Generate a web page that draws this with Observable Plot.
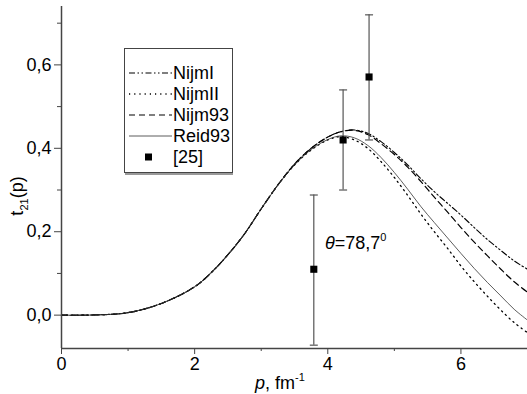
<!DOCTYPE html>
<html><head><meta charset="utf-8">
<script src="https://cdn.jsdelivr.net/npm/d3@7"></script>
<script src="https://cdn.jsdelivr.net/npm/@observablehq/plot@0.6"></script>
<style>
body{margin:0;background:#fff;}
svg{font-family:"Liberation Sans",Arial,sans-serif;}
</style>
</head><body><div id="chart"></div>
<script>
// momentum grid (fm^-1)
const pGrid  = [0, 0.5, 1.0, 1.5, 2.0, 2.25, 2.5, 2.75, 3.0, 3.25, 3.5, 3.75, 4.0, 4.2, 4.4, 4.6, 4.8, 5.0, 5.2, 5.4, 5.6, 5.8, 6.0, 6.2, 6.4, 6.6, 6.8, 7.0];
const nijmI  = [0, 0.0005, 0.006, 0.028, 0.068, 0.102, 0.145, 0.195, 0.255, 0.312, 0.362, 0.400, 0.427, 0.440, 0.444, 0.436, 0.416, 0.390, 0.360, 0.327, 0.296, 0.268, 0.240, 0.210, 0.181, 0.155, 0.130, 0.110];
const nijmII = [0, 0.0005, 0.006, 0.028, 0.068, 0.102, 0.145, 0.195, 0.255, 0.312, 0.360, 0.396, 0.420, 0.428, 0.420, 0.400, 0.368, 0.330, 0.287, 0.242, 0.200, 0.160, 0.118, 0.080, 0.045, 0.012, -0.018, -0.042];
const nijm93 = [0, 0.0005, 0.006, 0.028, 0.068, 0.102, 0.145, 0.195, 0.255, 0.312, 0.362, 0.400, 0.427, 0.440, 0.443, 0.433, 0.411, 0.385, 0.355, 0.320, 0.283, 0.247, 0.210, 0.175, 0.142, 0.110, 0.080, 0.055];
const reid93 = [0, 0.0005, 0.006, 0.028, 0.068, 0.102, 0.145, 0.195, 0.255, 0.312, 0.360, 0.397, 0.421, 0.430, 0.425, 0.407, 0.378, 0.342, 0.302, 0.260, 0.222, 0.185, 0.148, 0.112, 0.078, 0.046, 0.014, -0.012];

// experimental data [25]
const expP  = [3.79, 4.23, 4.62];
const expT  = [0.11, 0.42, 0.571];
const expLo = [-0.072, 0.30, 0.42];
const expHi = [0.288, 0.54, 0.72];

const xTicks = [0, 2, 4, 6];
const xMinor = [1, 3, 5];
const yTicks = [0.0, 0.2, 0.4, 0.6];
const yMinor = [0.1, 0.3, 0.5, 0.7];

const seriesNames = ["NijmI", "NijmII", "Nijm93", "Reid93"];
const seriesVals = [nijmI, nijmII, nijm93, reid93];
const seriesDash = ["6,2.5,1.5,2.5,1.5,2.5", "1.2,4", "6,4", null];
const seriesWidth = [1.1, 1.3, 1.2, 0.8];
const seriesColor = ["#000", "#000", "#000", "#333"];

const rows = seriesNames.map((name, i) => pGrid.map((p, j) => ({p, t: seriesVals[i][j], name})));
const exp = expP.map((p, i) => ({p, t: expT[i], lo: expLo[i], hi: expHi[i]}));

const capSymbol = {draw(ctx) { ctx.moveTo(-4, 0); ctx.lineTo(4, 0); }};

const lines = rows.map((d, i) => Plot.line(d, {
  x: "p", y: "t", curve: "catmull-rom",
  stroke: seriesColor[i], strokeWidth: seriesWidth[i],
  strokeDasharray: seriesDash[i] || undefined
}));

const plot = Plot.plot({
  width: 527, height: 394,
  marginLeft: 61, marginRight: 0, marginTop: 6, marginBottom: 46,
  x: {domain: [0, 7]},
  y: {domain: [-0.08, 0.74]},
  style: {fontFamily: "Liberation Sans, Arial, sans-serif", fontSize: "18px", color: "#000", background: "#fff"},
  marks: [
    ...lines,
    Plot.ruleX(exp, {x: "p", y1: "lo", y2: "hi", stroke: "#555", strokeWidth: 1.2}),
    Plot.dot(exp, {x: "p", y: "lo", symbol: capSymbol, stroke: "#555", strokeWidth: 1.2, fill: "none"}),
    Plot.dot(exp, {x: "p", y: "hi", symbol: capSymbol, stroke: "#555", strokeWidth: 1.2, fill: "none"}),
    Plot.dot(exp, {x: "p", y: "t", symbol: "square", r: 4, fill: "#000", stroke: "none"}),
    Plot.ruleX([0], {stroke: "#444", strokeWidth: 1.5}),
    Plot.ruleY([-0.08], {stroke: "#444", strokeWidth: 1.5}),
    Plot.axisX(xTicks, {tickSize: 6, tickPadding: 3, tickFormat: d => String(d), label: null, fontSize: 18, stroke: "#444"}),
    Plot.axisX(xMinor, {tickSize: 3, tickFormat: () => "", label: null, stroke: "#444"}),
    Plot.axisY(yTicks, {tickSize: 7, tickPadding: 3, tickFormat: d => d.toFixed(1).replace(".", ","), label: null, fontSize: 18, stroke: "#444"}),
    Plot.axisY(yMinor, {tickSize: 4, tickFormat: () => "", label: null, stroke: "#444"})
  ]
});

document.getElementById("chart").appendChild(plot);

const svg = d3.select(plot);
const font = "Liberation Sans, Arial, sans-serif";

// y axis title t21(p)
const yl = svg.append("text")
  .attr("transform", "translate(23,196) rotate(-90)")
  .attr("text-anchor", "middle")
  .attr("font-size", 18).attr("font-family", font).attr("fill", "#000");
yl.append("tspan").text("t");
yl.append("tspan").attr("font-size", 11).attr("dy", 5).text("21");
yl.append("tspan").attr("dy", -5).text("(p)");

// x axis title p, fm-1
const xl = svg.append("text")
  .attr("x", 280).attr("y", 389)
  .attr("text-anchor", "middle")
  .attr("font-size", 18).attr("font-family", font).attr("fill", "#000");
xl.append("tspan").attr("font-style", "italic").text("p");
xl.append("tspan").text(", fm");
xl.append("tspan").attr("font-size", 11).attr("dy", -8).text("-1");

// annotation theta
const th = svg.append("text")
  .attr("x", 325).attr("y", 249)
  .attr("text-anchor", "start")
  .attr("font-size", 18).attr("font-family", font).attr("fill", "#000");
th.append("tspan").attr("font-style", "italic").text("θ");
th.append("tspan").text("=78,7");
th.append("tspan").attr("font-size", 11).attr("dy", -8).text("0");

// legend
const lg = svg.append("g").attr("text-anchor", "start");
lg.append("rect").attr("x", 124.5).attr("y", 48.5).attr("width", 108).attr("height", 124)
  .attr("fill", "#fff").attr("stroke", "#444").attr("stroke-width", 1);
lg.append("line").attr("x1", 125).attr("x2", 233).attr("y1", 174).attr("y2", 174)
  .attr("stroke", "#999").attr("stroke-width", 2);
const rowY = [73, 94, 115, 136, 157];
seriesNames.forEach((name, i) => {
  const l = lg.append("line").attr("x1", 129).attr("x2", 172).attr("y1", rowY[i]).attr("y2", rowY[i])
    .attr("stroke", seriesColor[i]).attr("stroke-width", seriesWidth[i]);
  if (seriesDash[i]) l.attr("stroke-dasharray", seriesDash[i]);
  lg.append("text").attr("x", 173).attr("y", rowY[i] + 6).attr("font-size", 18)
    .attr("font-family", font).attr("fill", "#000").text(name);
});
lg.append("rect").attr("x", 145).attr("y", rowY[4] - 3.5).attr("width", 7).attr("height", 7).attr("fill", "#000");
lg.append("text").attr("x", 173).attr("y", rowY[4] + 6).attr("font-size", 18)
  .attr("font-family", font).attr("fill", "#000").text("[25]");
</script>
</body></html>
